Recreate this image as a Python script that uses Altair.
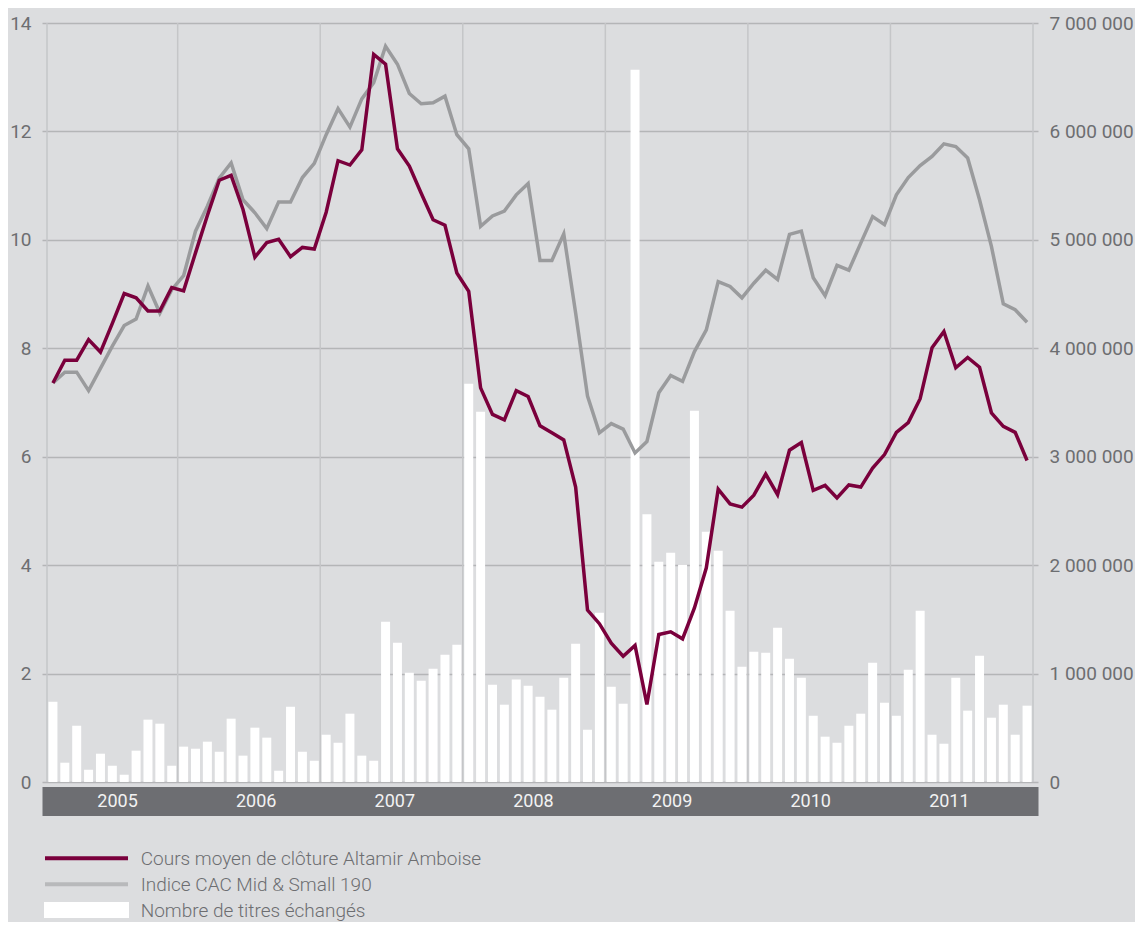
import altair as alt
import pandas as pd

# ---------------- data ----------------
MONTHS = [str(p) for p in pd.period_range("2005-02", "2011-12", freq="M")]

ALTAMIR = [
    7.36, 7.78, 7.78, 8.16, 7.93, 8.46, 9.01, 8.93, 8.69, 8.69, 9.12,
    9.06, 9.76, 10.45, 11.10, 11.19, 10.56, 9.68, 9.95, 10.01, 9.69, 9.86, 9.83,
    10.51, 11.46, 11.38, 11.66, 13.42, 13.24, 11.68, 11.36, 10.86, 10.37, 10.27, 9.39,
    9.05, 7.27, 6.78, 6.68, 7.22, 7.11, 6.57, 6.44, 6.31, 5.44, 3.17, 2.92,
    2.56, 2.32, 2.52, 1.43, 2.72, 2.77, 2.64, 3.21, 3.95, 5.40, 5.13, 5.07,
    5.29, 5.68, 5.30, 6.12, 6.26, 5.38, 5.47, 5.24, 5.48, 5.44, 5.79, 6.04,
    6.45, 6.63, 7.07, 8.01, 8.31, 7.64, 7.83, 7.65, 6.81, 6.56, 6.45, 5.93,
]

CAC = [
    7.36, 7.56, 7.56, 7.22, 7.63, 8.04, 8.42, 8.54, 9.15, 8.65, 9.08,
    9.34, 10.16, 10.62, 11.14, 11.42, 10.74, 10.50, 10.21, 10.70, 10.70, 11.15, 11.41,
    11.94, 12.42, 12.08, 12.60, 12.90, 13.57, 13.24, 12.70, 12.51, 12.53, 12.65, 11.94,
    11.68, 10.25, 10.44, 10.53, 10.83, 11.04, 9.62, 9.62, 10.11, 8.65, 7.12, 6.44,
    6.61, 6.51, 6.07, 6.28, 7.18, 7.50, 7.39, 7.94, 8.34, 9.23, 9.14, 8.93,
    9.20, 9.44, 9.27, 10.10, 10.16, 9.30, 8.97, 9.53, 9.44, 9.94, 10.43, 10.28,
    10.83, 11.15, 11.37, 11.54, 11.77, 11.72, 11.51, 10.74, 9.88, 8.82, 8.71, 8.48,
]

VOLUME = [
    740000, 178000, 519000, 113000, 261000, 150000, 67000, 289000, 575000, 538000, 150000,
    326000, 307000, 372000, 279000, 584000, 243000, 501000, 409000, 104000, 694000, 279000, 196000,
    436000, 362000, 630000, 243000, 196000, 1478000, 1285000, 1008000, 934000, 1045000, 1174000, 1266000,
    3673000, 3415000, 897000, 713000, 946000, 888000, 787000, 667000, 962000, 1276000, 482000, 1561000,
    879000, 722000, 6569000, 2470000, 2032000, 2115000, 2004000, 3424000, 2308000, 2133000, 1580000, 1063000,
    1202000, 1192000, 1423000, 1137000, 962000, 611000, 418000, 362000, 519000, 630000, 1100000, 731000,
    611000, 1036000, 1580000, 436000, 353000, 962000, 658000, 1165000, 593000, 713000, 436000, 704000,
]

YEARS = ["2005", "2006", "2007", "2008", "2009", "2010", "2011"]
SERIES = [
    "Cours moyen de clôture Altamir Amboise",
    "Indice CAC Mid & Small 190",
    "Nombre de titres échangés",
]
LEFT_TICKS = [0, 2, 4, 6, 8, 10, 12, 14]
RIGHT_TICKS = [0, 1000000, 2000000, 3000000, 4000000, 5000000, 6000000, 7000000]

# ---------------- style ----------------
W, H = 996, 759
BG = "#dcdddf"
MAROON = "#7a003c"
GREY_LINE = "#9a9b9d"
GREY_LEG = "#b8b9bb"
TEXT = "#6d6e71"
BAND = "#6d6e72"
FONT = "Roboto"

n = len(MONTHS)
df = pd.DataFrame({
    "idx": list(range(n)),
    "month": MONTHS,
    "altamir": ALTAMIR,
    "cac": CAC,
    "volume": VOLUME,
})
bounds = [-0.5] + [i - 0.5 for i, m in enumerate(MONTHS) if m.endswith("-01")] + [n - 0.5]
df_b = pd.DataFrame({"b": bounds})
df_years = pd.DataFrame({"year": YEARS, "pos": [5.44 + 11.67 * k for k in range(len(YEARS))]})

xscale = alt.Scale(domain=[-0.5, n - 0.5], nice=False, zero=False)
xaxis = alt.Axis(title=None, labels=False, ticks=False, tickSize=0, grid=False,
                 domain=True, domainColor=BAND, domainWidth=29, offset=19)

left_axis = alt.Axis(orient="left", values=LEFT_TICKS, title=None, grid=True,
                     gridColor="#b4b5b7", gridWidth=1.5, domain=False, ticks=False,
                     labelPadding=11, labelFontSize=19, labelColor=TEXT, labelFont=FONT)
left_scale = alt.Scale(domain=[0, 14], nice=False, zero=True)

right_axis = alt.Axis(orient="right", values=RIGHT_TICKS, title=None, grid=False,
                      domain=False, ticks=False, labelPadding=11, labelFontSize=19,
                      labelColor=TEXT, labelFont=FONT,
                      labelExpr="replace(format(datum.value, ','), regexp(',', 'g'), ' ')")
right_scale = alt.Scale(domain=[0, 7000000], nice=False, zero=True)

vrules = alt.Chart(df_b).mark_rule(color="#c5c6c8", strokeWidth=1.5).encode(
    x=alt.X("b:Q", scale=xscale, axis=xaxis)
)

bars = alt.Chart(df).mark_bar(color="white", size=9).encode(
    x=alt.X("idx:Q", scale=xscale, axis=xaxis),
    y=alt.Y("volume:Q", scale=right_scale, axis=right_axis),
)

line_cac = alt.Chart(df).mark_line(color=GREY_LINE, strokeWidth=3.5).encode(
    x=alt.X("idx:Q", scale=xscale, axis=xaxis),
    y=alt.Y("cac:Q", scale=left_scale, axis=left_axis),
)
line_alt = alt.Chart(df).mark_line(color=MAROON, strokeWidth=3.5).encode(
    x=alt.X("idx:Q", scale=xscale, axis=xaxis),
    y=alt.Y("altamir:Q", scale=left_scale, axis=left_axis),
)
lines = alt.layer(line_cac, line_alt)

year_labels = alt.Chart(df_years).mark_text(
    color="#f2f2f2", fontSize=18, baseline="middle", font=FONT
).encode(
    x=alt.X("pos:Q", scale=xscale, axis=xaxis),
    y=alt.value(H + 20),
    text="year:N",
)

# ---------------- legend ----------------
leg_data = [pd.DataFrame({"label": [s]}) for s in SERIES]
leg_y = [842, 868, 894]
leg_line1 = alt.Chart(leg_data[0]).mark_rule(color=MAROON, strokeWidth=4).encode(
    x=alt.value(3), x2=alt.value(86), y=alt.value(835.3))
leg_line2 = alt.Chart(leg_data[1]).mark_rule(color=GREY_LEG, strokeWidth=4).encode(
    x=alt.value(3), x2=alt.value(86), y=alt.value(861.3))
leg_rect = alt.Chart(leg_data[2]).mark_rect(color="white").encode(
    x=alt.value(2), x2=alt.value(87), y=alt.value(879), y2=alt.value(895))
leg_texts = [
    alt.Chart(leg_data[i]).mark_text(align="left", baseline="alphabetic", fontSize=19,
                                     color=TEXT, font=FONT, fontWeight=300).encode(
        x=alt.value(98.7), y=alt.value(leg_y[i]), text="label:N")
    for i in range(3)
]

chart = alt.layer(
    vrules, bars, lines, year_labels, leg_line1, leg_line2, leg_rect, *leg_texts
).resolve_scale(y="independent").properties(
    width=W, height=H,
    padding={"left": 34, "top": 15, "right": 97, "bottom": 140},
    autosize=alt.AutoSizeParams(type="none"),
).configure(background=BG, font=FONT).configure_view(strokeWidth=0)

chart.save("out.html", embed_options={"renderer": "svg", "actions": False})
